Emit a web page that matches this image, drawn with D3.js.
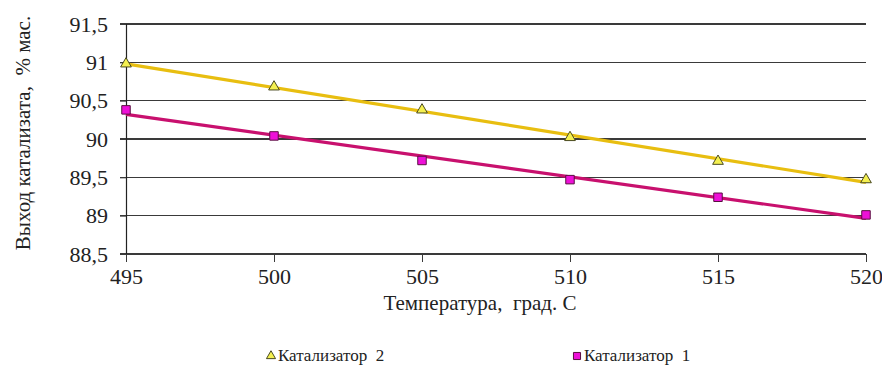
<!DOCTYPE html>
<html><head><meta charset="utf-8">
<script src="https://cdn.jsdelivr.net/npm/d3@7"></script>
</head><body style="margin:0;background:#fff">
<script>
const temps = [495, 500, 505, 510, 515, 520];
const cat2 = [90.98, 90.68, 90.38, 90.02, 89.71, 89.47];
const cat1 = [90.38, 90.04, 89.72, 89.47, 89.24, 89.01];
const yTicks = [88.5, 89, 89.5, 90, 90.5, 91, 91.5];
const seriesNames = ["Катализатор  2", "Катализатор  1"];
const xTitle = "Температура,  град. С";
const yTitle = "Выход катализата,  % мас.";

const W = 882, H = 367;
const m = {l: 126, r: 16, t: 24, b: 113};
const FONT = "Liberation Serif, Times New Roman, Tinos";
const svg = d3.select("body").append("svg").attr("width", W).attr("height", H)
  .style("display", "block").attr("font-family", FONT).style("font-family", FONT);

const x = d3.scaleLinear().domain([495, 520]).range([m.l, W - m.r]);
const y = d3.scaleLinear().domain([88.5, 91.5]).range([H - m.b, m.t]);
const fmt = v => String(v).replace(".", ",");

// gridlines
svg.append("g").selectAll("line").data(yTicks).join("line")
  .attr("x1", m.l - 6).attr("x2", W - m.r)
  .attr("y1", d => y(d)).attr("y2", d => y(d))
  .attr("stroke", "#3a3a3a").attr("stroke-width", 1.2).attr("shape-rendering", "crispEdges");

// y axis
const yAx = svg.append("g").attr("transform", `translate(${m.l},0)`)
  .call(d3.axisLeft(y).tickValues(yTicks).tickFormat(fmt).tickSize(6).tickPadding(12))
  .attr("font-family", null).attr("font-size", null);
yAx.select(".domain").attr("stroke", "#222").attr("stroke-width", 1.2);
yAx.selectAll("line").attr("stroke", "#3a3a3a");
yAx.selectAll("text").attr("font-family", FONT).style("font-family", FONT).style("font-size", "22px").attr("fill", "#222");

// x axis
const xAx = svg.append("g").attr("transform", `translate(0,${H - m.b})`)
  .call(d3.axisBottom(x).tickValues(temps).tickFormat(d3.format("d")).tickSize(8).tickPadding(6).tickSizeOuter(0))
  .attr("font-family", null).attr("font-size", null);
xAx.select(".domain").attr("stroke", "#3a3a3a").attr("stroke-width", 1.2);
xAx.selectAll("line").attr("stroke", "#3a3a3a");
xAx.selectAll("text").attr("font-family", FONT).style("font-family", FONT).style("font-size", "22px").attr("fill", "#222");

// titles
svg.append("text").attr("x", 480).attr("y", 310)
  .attr("text-anchor", "middle").style("font-size", "21px").attr("fill", "#222")
  .style("white-space", "pre").text(xTitle);
svg.append("text").attr("transform", `translate(30,${133}) rotate(-90)`)
  .attr("text-anchor", "middle").style("font-size", "21px").attr("fill", "#222")
  .style("white-space", "pre").text(yTitle);

// trend lines (least squares)
function fit(xs, ys) {
  const mx = d3.mean(xs), my = d3.mean(ys);
  const b = d3.sum(xs, (v, i) => (v - mx) * (ys[i] - my)) / d3.sum(xs, v => (v - mx) ** 2);
  return t => my + b * (t - mx);
}
const series = [
  {vals: cat2, line: "#E8BE10", fill: "#F4F050", stroke: "#4a4a20", shape: "tri"},
  {vals: cat1, line: "#C8106E", fill: "#EE10D8", stroke: "#5a1040", shape: "sq"}
];
series.forEach(s => {
  const f = fit(temps, s.vals);
  svg.append("line").attr("x1", x(495)).attr("x2", x(520))
    .attr("y1", y(f(495))).attr("y2", y(f(520)))
    .attr("stroke", s.line).attr("stroke-width", 3.2);
});
const tri = d3.symbol().type(d3.symbolTriangle).size(50);
const sq = d3.symbol().type(d3.symbolSquare).size(72);
series.forEach(s => {
  svg.append("g").selectAll("path").data(s.vals).join("path")
    .attr("d", s.shape === "tri" ? tri : sq)
    .attr("transform", (d, i) => `translate(${x(temps[i])},${y(d)})`)
    .attr("fill", s.fill).attr("stroke", s.stroke).attr("stroke-width", 1);
});

// legend
const leg = [{x: 271, s: series[0], name: seriesNames[0]}, {x: 577, s: series[1], name: seriesNames[1]}];
leg.forEach(l => {
  svg.append("path").attr("d", l.s.shape === "tri" ? d3.symbol().type(d3.symbolTriangle).size(36) : d3.symbol().type(d3.symbolSquare).size(50))
    .attr("transform", `translate(${l.x},${356})`)
    .attr("fill", l.s.fill).attr("stroke", l.s.stroke).attr("stroke-width", 1);
  svg.append("text").attr("x", l.x + 7).attr("y", 361)
    .style("font-size", "17px").attr("fill", "#222")
    .style("white-space", "pre").text(l.name);
});
</script>
</body></html>
